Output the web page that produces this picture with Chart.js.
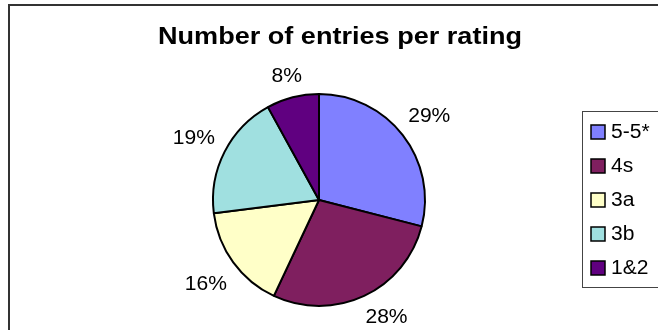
<!DOCTYPE html>
<html lang="en">
<head>
    <meta charset="UTF-8">
    <script src="https://cdn.jsdelivr.net/npm/chart.js"></script>
    <title>Number of entries per rating</title>
    <style>
        body {
            margin: 0;
            padding: 0;
            background-color: #fff;
        }
        .chart-container {
            width: 658px;
            height: 330px;
        }
    </style>
</head>
<body>
    <div class="chart-container">
        <canvas id="ratingChart" width="658" height="330"></canvas>
    </div>

    <script>
        const ratings = ['5-5*', '4s', '3a', '3b', '1&2'];
        const shares = [29, 28, 16, 19, 8];
        const sliceColors = ['#8080FF', '#7F1F5F', '#FFFFC8', '#A0E0E0', '#600080'];

        const FONT = '"Liberation Sans", Arial, sans-serif';
        const STRETCH = 1.08; // the original text is a touch wider than Arial

        function wideText(ctx, text, x, y, sx) {
            ctx.save();
            ctx.translate(x, y);
            ctx.scale(sx, 1);
            ctx.fillText(text, 0, 0);
            ctx.restore();
        }

        // frame, title, legend box and percentage labels
        const decorations = {
            id: 'decorations',
            beforeDraw(chart) {
                const ctx = chart.ctx;
                ctx.save();
                ctx.strokeStyle = '#333';
                ctx.lineWidth = 2;
                ctx.beginPath();
                ctx.moveTo(9, 340);
                ctx.lineTo(9, 5);
                ctx.lineTo(670, 5);
                ctx.stroke();
                ctx.restore();
            },
            afterDraw(chart) {
                const ctx = chart.ctx;
                ctx.save();

                ctx.fillStyle = '#000';
                ctx.font = 'bold 23px ' + FONT;
                ctx.textAlign = 'center';
                ctx.textBaseline = 'alphabetic';
                const title = 'Number of entries per rating';
                wideText(ctx, title, 340, 44, 364 / ctx.measureText(title).width);

                // percentage labels outside each slice
                const meta = chart.getDatasetMeta(0);
                const total = shares.reduce((a, b) => a + b, 0);
                ctx.font = '19.5px ' + FONT;
                ctx.textBaseline = 'middle';
                meta.data.forEach((arc, i) => {
                    const mid = (arc.startAngle + arc.endAngle) / 2;
                    const text = Math.round(shares[i] / total * 100) + '%';
                    const tw = ctx.measureText(text).width * STRETCH;
                    const dx = Math.cos(mid), dy = Math.sin(mid);
                    const support = tw / 2 * Math.abs(dx) + 8 * Math.abs(dy);
                    const dist = arc.outerRadius + 12 + support;
                    let x = arc.x + dx * dist;
                    let y = arc.y + dy * dist;
                    if (y > 316) {
                        y = 316;
                        const ry = y - arc.y;
                        x = arc.x + Math.sign(dx) * Math.sqrt(Math.max(dist * dist - ry * ry, 0));
                    }
                    wideText(ctx, text, x, y + 2, STRETCH);
                });

                // legend
                ctx.strokeStyle = '#444';
                ctx.lineWidth = 1;
                ctx.strokeRect(582.5, 111.5, 90, 176);
                ctx.textAlign = 'left';
                ratings.forEach((label, i) => {
                    const cy = 132 + i * 34;
                    ctx.fillStyle = sliceColors[i];
                    ctx.fillRect(591, cy - 7, 14, 14);
                    ctx.strokeStyle = '#000';
                    ctx.lineWidth = 1.5;
                    ctx.strokeRect(591, cy - 7, 14, 14);
                    ctx.fillStyle = '#000';
                    wideText(ctx, label, 611, cy + 1, STRETCH);
                });

                ctx.restore();
            }
        };

        new Chart(document.getElementById('ratingChart'), {
            type: 'pie',
            data: {
                labels: ratings,
                datasets: [{
                    data: shares,
                    backgroundColor: sliceColors,
                    borderColor: '#000',
                    borderWidth: 2
                }]
            },
            options: {
                responsive: false,
                animation: false,
                layout: {
                    padding: { left: 212, right: 232, top: 93, bottom: 23 }
                },
                plugins: {
                    legend: { display: false },
                    tooltip: { enabled: false }
                }
            },
            plugins: [decorations]
        });
    </script>
</body>
</html>
